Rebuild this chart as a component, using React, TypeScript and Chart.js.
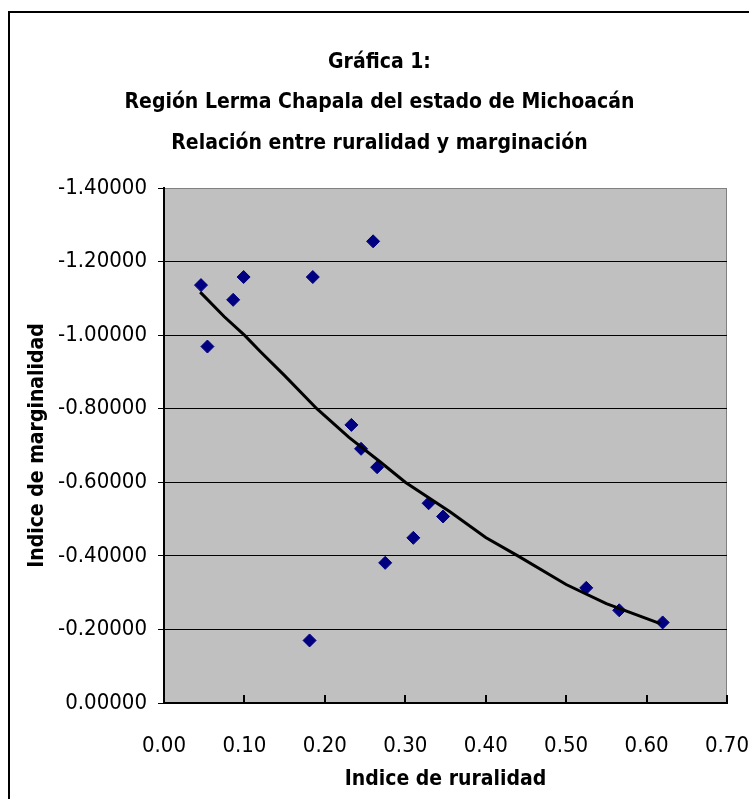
import React, { useEffect, useRef } from 'react';
import { Chart, registerables } from 'chart.js';

Chart.register(...registerables);

const titleLines = [
  'Gráfica 1:',
  'Región Lerma Chapala del estado de Michoacán',
  'Relación entre ruralidad y marginación',
];
const xTitle = 'Indice de ruralidad';
const yTitle = 'Indice de marginalidad';

const ruralidad = [0.046, 0.054, 0.086, 0.099, 0.185, 0.26, 0.233, 0.245, 0.265, 0.275, 0.31, 0.329, 0.347, 0.525, 0.566, 0.62, 0.181];
const marginalidad = [-1.136, -0.969, -1.096, -1.158, -1.158, -1.255, -0.756, -0.691, -0.641, -0.381, -0.449, -0.543, -0.507, -0.313, -0.252, -0.219, -0.17];

const trendX = [0.045, 0.075, 0.1, 0.12, 0.15, 0.19, 0.23, 0.269, 0.3, 0.356, 0.4, 0.44, 0.5, 0.55, 0.617];
const trendY = [-1.117, -1.05, -1.0, -0.955, -0.89, -0.8, -0.722, -0.655, -0.6, -0.519, -0.45, -0.4, -0.322, -0.27, -0.216];

const xTicks = [0, 0.1, 0.2, 0.3, 0.4, 0.5, 0.6, 0.7];
const yTicks = [-1.4, -1.2, -1.0, -0.8, -0.6, -0.4, -0.2, 0];

const FONT = "'Liberation Sans Narrow', 'Arial Narrow', 'DejaVu Sans Condensed', sans-serif";

const plotBg = {
  id: 'plotBg',
  beforeDraw(chart: any) {
    const { ctx, chartArea } = chart;
    const { left, top, right, bottom } = chartArea;
    ctx.save();
    ctx.fillStyle = '#C0C0C0';
    ctx.fillRect(left, top, right - left, bottom - top);
    ctx.strokeStyle = '#808080';
    ctx.lineWidth = 1;
    ctx.strokeRect(left + 0.5, top + 0.5, right - left - 1, bottom - top - 1);
    ctx.restore();
  },
};

export default function App() {
  const ref = useRef<HTMLCanvasElement>(null);
  useEffect(() => {
    if (!ref.current) return;
    const chart = new Chart(ref.current, {
      type: 'scatter',
      data: {
        datasets: [
          {
            type: 'line',
            label: 'Tendencia',
            data: trendX.map((x, i) => ({ x, y: trendY[i] })),
            borderColor: '#000000',
            borderWidth: 3,
            pointRadius: 0,
            tension: 0,
            fill: false,
            order: 0,
          } as any,
          {
            type: 'scatter',
            label: 'Municipios',
            data: ruralidad.map((x, i) => ({ x, y: marginalidad[i] })),
            backgroundColor: '#000080',
            borderColor: '#000080',
            borderWidth: 1,
            pointStyle: 'rectRot',
            pointRadius: 6.5,
            order: 1,
          },
        ],
      },
      options: {
        animation: false,
        responsive: false,
        devicePixelRatio: 1,
        layout: { padding: { left: 0, right: 0, top: 0, bottom: 0 } },
        plugins: {
          legend: { display: false },
          tooltip: { enabled: false },
          title: {
            display: true,
            text: titleLines,
            color: '#000',
            font: { family: FONT, size: 21, weight: 'bold', lineHeight: '40.5px' } as any,
            padding: { top: 29, bottom: 24.5 },
          },
        },
        scales: {
          x: {
            type: 'linear',
            min: 0,
            max: 0.7,
            afterBuildTicks: (s: any) => {
              s.ticks = xTicks.map((v) => ({ value: v }));
            },
            afterFit: (s: any) => {
              s.height = 96;
              s.paddingLeft = 0;
              s.paddingRight = 22;
            },
            ticks: {
              autoSkip: false,
              maxRotation: 0,
              padding: 38,
              color: '#000',
              font: { family: FONT, size: 22 },
              callback: (v: any) => Number(v).toFixed(2),
            },
            grid: {
              display: true,
              drawOnChartArea: false,
              drawTicks: true,
              tickLength: -8,
              color: '#000',
              lineWidth: 2,
            },
            border: { display: true, color: '#000', width: 2 },
            title: {
              display: true,
              text: xTitle,
              color: '#000',
              font: { family: FONT, size: 21, weight: 'bold' },
              padding: { top: 0, bottom: 6.4 },
            },
          },
          y: {
            type: 'linear',
            reverse: true,
            min: -1.4,
            max: 0,
            afterBuildTicks: (s: any) => {
              s.ticks = yTicks.map((v) => ({ value: v }));
            },
            afterFit: (s: any) => {
              s.width = 154;
              s.paddingTop = 0;
              s.paddingBottom = 0;
            },
            ticks: {
              autoSkip: false,
              padding: 11,
              color: '#000',
              font: { family: FONT, size: 22 },
              callback: (v: any) => Number(v).toFixed(5),
            },
            grid: {
              display: true,
              drawOnChartArea: true,
              drawTicks: true,
              tickLength: 6,
              color: (c: any) => (c.tick && c.tick.value === -1.4 ? '#808080' : '#000'),
              tickColor: '#000',
              lineWidth: 1,
            },
            border: { display: true, color: '#000', width: 2 },
            title: {
              display: true,
              text: yTitle,
              color: '#000',
              font: { family: FONT, size: 21, weight: 'bold' },
              padding: { top: 15.4, bottom: 0 },
            },
          },
        },
      },
      plugins: [plotBg],
    });
    return () => chart.destroy();
  }, []);

  return (
    <div
      style={{
        position: 'fixed',
        left: 8,
        top: 11,
        width: 800,
        height: 850,
        border: '2px solid #000',
        background: '#fff',
      }}
    >
      <canvas
        ref={ref}
        width={739}
        height={786}
        style={{ position: 'absolute', left: 0, top: 0, width: 739, height: 786 }}
      />
    </div>
  );
}
